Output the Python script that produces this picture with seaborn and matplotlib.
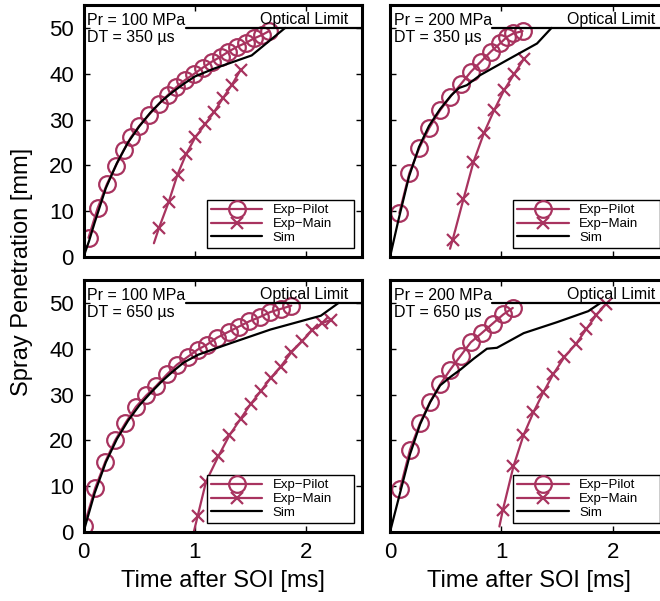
import matplotlib
matplotlib.use("Agg")
import matplotlib.pyplot as plt
import seaborn as sns
import pandas as pd

sns.set_style("ticks")
plt.rcParams["font.family"] = ["Liberation Sans", "DejaVu Sans"]
plt.rcParams.update({"text.color": "black", "axes.labelcolor": "black",
                     "xtick.color": "black", "ytick.color": "black",
                     "axes.edgecolor": "black"})

# ---------------- data ----------------
panel_titles = [("Pr = 100 MPa", "DT = 350 µs"), ("Pr = 200 MPa", "DT = 350 µs"),
                ("Pr = 100 MPa", "DT = 650 µs"), ("Pr = 200 MPa", "DT = 650 µs")]

# Panel 1: Pr 100, DT 350
p1_pilot_x = [0.045, 0.126, 0.21, 0.29, 0.36, 0.425, 0.50, 0.59, 0.68, 0.755, 0.83, 0.91,
              0.995, 1.07, 1.15, 1.23, 1.30, 1.38, 1.455, 1.53, 1.605, 1.665]
p1_pilot_y = [4.2, 10.6, 15.9, 19.9, 23.3, 26.1, 28.6, 31.1, 33.5, 35.3, 37.0, 38.6,
              40.0, 41.3, 42.6, 43.7, 44.8, 45.9, 46.7, 47.7, 48.5, 49.3]
p1_main_x = [0.632, 0.677, 0.766, 0.844, 0.92, 1.003, 1.093, 1.174, 1.25, 1.33, 1.41]
p1_main_y = [3.0, 6.3, 12.1, 18.0, 22.4, 26.1, 29.0, 31.7, 34.6, 37.5, 40.8]
p1_sim_x = [0, 0.05, 0.1, 0.2, 0.3, 0.4, 0.5, 0.6, 0.7, 0.8, 0.9, 1.0, 1.17, 1.51, 1.81]
p1_sim_y = [0, 3.5, 7.5, 15, 20.5, 25, 28.5, 31.5, 34.0, 36.0, 37.8, 39.4, 41.1, 44.0, 50]

# Panel 2: Pr 200, DT 350
p2_pilot_x = [0.084, 0.174, 0.263, 0.353, 0.449, 0.539, 0.635, 0.725, 0.814, 0.904,
              0.988, 1.048, 1.108, 1.19]
p2_pilot_y = [9.6, 18.3, 23.8, 28.2, 32.0, 34.9, 37.7, 40.4, 42.6, 44.8, 46.6, 48.0, 48.8, 49.3]
p2_main_x = [0.539, 0.563, 0.659, 0.749, 0.844, 0.934, 1.024, 1.114, 1.204]
p2_main_y = [1.8, 3.8, 12.6, 20.7, 27.1, 32.0, 36.4, 39.9, 43.3]
p2_sim_x = [0, 0.075, 0.17, 0.26, 0.35, 0.45, 0.55, 0.62, 0.69, 0.81, 1.06, 1.32, 1.45]
p2_sim_y = [0, 8, 17.5, 24, 28.6, 32.3, 35.3, 36.9, 37.5, 39.7, 43.1, 46.6, 50]

# Panel 3: Pr 100, DT 650
p3_pilot_x = [0.006, 0.105, 0.195, 0.284, 0.374, 0.47, 0.563, 0.653, 0.749, 0.838, 0.934,
              1.024, 1.108, 1.198, 1.302, 1.392, 1.49, 1.581, 1.677, 1.772, 1.865]
p3_pilot_y = [1.4, 9.6, 15.3, 20.0, 23.7, 27.3, 29.8, 31.9, 34.4, 36.5, 38.2,
              39.8, 40.9, 42.4, 43.7, 44.8, 46.0, 46.9, 48.0, 48.7, 49.4]
p3_main_x = [0.99, 1.024, 1.10, 1.21, 1.31, 1.41, 1.50, 1.59, 1.68, 1.77, 1.866, 1.965,
             2.054, 2.144, 2.22]
p3_main_y = [0.0, 3.4, 11.0, 16.5, 21.1, 24.7, 27.9, 30.7, 33.6, 36.1, 39.2, 41.7,
             44.1, 45.6, 46.3]
p3_sim_x = [0, 0.1, 0.2, 0.3, 0.4, 0.5, 0.6, 0.7, 0.8, 0.9, 1.03, 1.26, 1.68, 2.13, 2.29]
p3_sim_y = [0, 8.5, 15.2, 20.3, 24.3, 27.6, 30.3, 32.8, 35.0, 37.0, 38.7, 40.7, 44.2, 47.2, 50]

# Panel 4: Pr 200, DT 650
p4_pilot_x = [0.09, 0.18, 0.27, 0.36, 0.45, 0.54, 0.635, 0.725, 0.823, 0.922, 1.018, 1.102]
p4_pilot_y = [9.4, 18.0, 23.8, 28.4, 32.2, 35.4, 38.5, 41.4, 43.4, 45.5, 47.5, 48.9]
p4_main_x = [0.982, 1.012, 1.108, 1.198, 1.287, 1.377, 1.467, 1.566, 1.671, 1.76, 1.85, 1.94]
p4_main_y = [1.2, 4.7, 14.3, 21.1, 26.1, 30.5, 34.5, 38.2, 41.1, 44.2, 47.3, 49.8]
p4_sim_x = [0, 0.09, 0.18, 0.27, 0.36, 0.45, 0.54, 0.63, 0.75, 0.87, 0.96, 1.2, 1.5, 1.78, 1.89]
p4_sim_y = [0, 8.5, 17, 23.5, 28.3, 32.0, 33.8, 35.4, 37.8, 40.0, 40.2, 43.4, 45.8, 48.2, 50]

pilot_x = [p1_pilot_x, p2_pilot_x, p3_pilot_x, p4_pilot_x]
pilot_y = [p1_pilot_y, p2_pilot_y, p3_pilot_y, p4_pilot_y]
main_x = [p1_main_x, p2_main_x, p3_main_x, p4_main_x]
main_y = [p1_main_y, p2_main_y, p3_main_y, p4_main_y]
sim_x = [p1_sim_x, p2_sim_x, p3_sim_x, p4_sim_x]
sim_y = [p1_sim_y, p2_sim_y, p3_sim_y, p4_sim_y]

optical_limit = 50
optical_x = [0.92, 2.5]
x_ticks = [0, 1, 2]
y_ticks = [0, 10, 20, 30, 40, 50]

# ---------------- style ----------------
PINK = "#A8335F"
FS_TICK = 16
W, H = 660, 601
fig = plt.figure(figsize=(W / 100, H / 100), dpi=100)

ax_w = 278.5 / W
ax_h = 252 / H
lefts = [83.5 / W, 390 / W]
bottoms = [(H - 257) / H, (H - 532) / H]

axes = []
for r in range(2):
    for c in range(2):
        axes.append(fig.add_axes([lefts[c], bottoms[r], ax_w, ax_h]))

for i, ax in enumerate(axes):
    r, c = divmod(i, 2)
    dfp = pd.DataFrame({"t": pilot_x[i], "s": pilot_y[i]})
    dfm = pd.DataFrame({"t": main_x[i], "s": main_y[i]})
    dfs = pd.DataFrame({"t": sim_x[i], "s": sim_y[i]})
    sns.lineplot(data=dfp, x="t", y="s", ax=ax, sort=False, color=PINK, lw=1.6,
                 marker="o", markersize=12, markerfacecolor="none",
                 markeredgecolor=PINK, markeredgewidth=1.6, label="Exp\u2212Pilot")
    sns.lineplot(data=dfm, x="t", y="s", ax=ax, sort=False, color=PINK, lw=1.6,
                 marker="x", markersize=9, markeredgecolor=PINK, markeredgewidth=1.6,
                 markevery=slice(1, None), label="Exp\u2212Main")
    sns.lineplot(data=dfs, x="t", y="s", ax=ax, sort=False, color="black", lw=1.6,
                 label="Sim")
    ax.plot(optical_x, [optical_limit, optical_limit], color="black", lw=1.6)

    ax.set_xlim(0, 2.5)
    ax.set_ylim(0, 55)
    ax.set_xticks(x_ticks)
    ax.set_yticks(y_ticks)
    ax.tick_params(direction="in", length=4, width=1, top=True, right=True,
                   labelsize=FS_TICK, pad=7, colors="black")
    if c == 1:
        ax.tick_params(labelleft=False)
    if r == 0:
        ax.tick_params(labelbottom=False)
        ax.set_xlabel("")
    else:
        ax.set_xlabel("Time after SOI [ms]", fontsize=FS_TICK + 1, labelpad=5,
                      color="black")
    ax.set_ylabel("")
    for sp in ax.spines.values():
        sp.set_linewidth(2.2)
        sp.set_color("black")
        sp.set_visible(True)

    t1, t2 = panel_titles[i]
    ax.text(0.014, 50.65, t1, transform=ax.get_yaxis_transform(), fontsize=11.5,
            va="baseline", ha="left", color="black")
    ax.text(0.014, 46.9, t2, transform=ax.get_yaxis_transform(), fontsize=11.5,
            va="baseline", ha="left", color="black")
    ax.text(2.38, 50.8, "Optical Limit", fontsize=11.5, va="baseline", ha="right",
            color="black")

    leg = ax.legend(loc="lower left", bbox_to_anchor=(0.443, 0.036, 0.528, 0.19),
                    mode="expand", fontsize=9.5, handlelength=3.9, labelspacing=0.12,
                    borderpad=0.3, handletextpad=0.8, fancybox=False, framealpha=1,
                    edgecolor="black", borderaxespad=0)
    leg.get_frame().set_linewidth(1.0)
    for t in leg.get_texts():
        t.set_color("black")

fig.text(22 / W, 0.547, "Spray Penetration [mm]", rotation=90, fontsize=FS_TICK + 1,
         ha="center", va="center", color="black")

fig.savefig("out.png", dpi=100)
